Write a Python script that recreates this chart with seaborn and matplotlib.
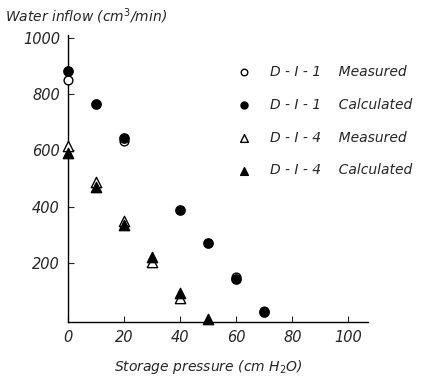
import matplotlib
matplotlib.use("Agg")
import matplotlib.pyplot as plt
import seaborn as sns
import pandas as pd

sns.set_style("ticks")
plt.rcParams['font.family'] = ['DejaVu Sans']

# Data
d1_meas_x = [0, 20, 60, 70]
d1_meas_y = [850, 635, 150, 30]
d1_calc_x = [0, 10, 20, 40, 50, 60, 70]
d1_calc_y = [883, 765, 645, 388, 270, 142, 25]
d4_meas_x = [0, 10, 20, 30, 40]
d4_meas_y = [615, 488, 348, 205, 75]
d4_calc_x = [0, 10, 20, 30, 40, 50]
d4_calc_y = [592, 470, 334, 220, 93, 0]

labels = ["D - I - 1    Measured", "D - I - 1    Calculated",
          "D - I - 4    Measured", "D - I - 4    Calculated"]
x_ticks = [0, 20, 40, 60, 80, 100]
y_ticks = [200, 400, 600, 800, 1000]

fig = plt.figure(figsize=(4.26, 3.78), dpi=100)
ax = fig.add_axes([0.160, 0.148, 0.704, 0.759])

series = [
    (d1_meas_x, d1_meas_y, "o", "white", 40, labels[0]),
    (d1_calc_x, d1_calc_y, "o", "black", 45, labels[1]),
    (d4_meas_x, d4_meas_y, "^", "white", 55, labels[2]),
    (d4_calc_x, d4_calc_y, "^", "black", 55, labels[3]),
]
for xs, ys, m, fc, s, lab in series:
    df = pd.DataFrame({"x": xs, "y": ys})
    sns.scatterplot(data=df, x="x", y="y", marker=m, s=s, facecolor=fc,
                    edgecolor="black", linewidth=1.0, ax=ax, label=lab,
                    zorder=3, clip_on=False)

ax.set_xlim(0, 107)
ax.set_ylim(-10, 1010)
ax.set_xticks(x_ticks)
ax.set_yticks(y_ticks)
ax.set_xticklabels([str(v) for v in x_ticks], fontstyle="italic", fontsize=10.5)
ax.set_yticklabels([str(v) for v in y_ticks], fontstyle="italic", fontsize=10.5)
ax.tick_params(direction="in", length=4, width=0.8, pad=6)
sns.despine(ax=ax)
for sp in ["left", "bottom"]:
    ax.spines[sp].set_linewidth(1.0)
    ax.spines[sp].set_color("black")
ax.set_xlabel("")
ax.set_ylabel("")

fig.text(0.012, 0.958, "Water inflow (cm$^3$/min)", fontsize=10,
         fontstyle="italic", ha="left", va="center")
fig.text(0.49, 0.03, "Storage pressure (cm H$_2$O)", fontsize=10,
         fontstyle="italic", ha="center", va="center")

leg = ax.legend(loc="upper left", bbox_to_anchor=(0.52, 0.915), frameon=False,
                fontsize=10, markerscale=0.75, handletextpad=0.9,
                labelspacing=1.35, borderaxespad=0)
for t in leg.get_texts():
    t.set_fontstyle("italic")

fig.savefig("out.png", dpi=100)
